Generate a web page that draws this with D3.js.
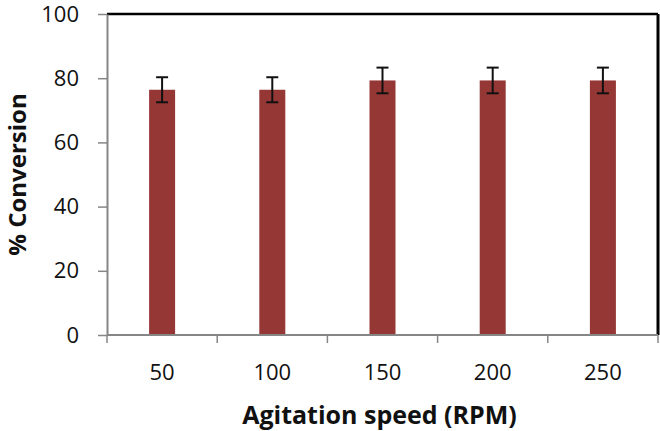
<!DOCTYPE html>
<html>
<head>
<meta charset="utf-8">
<script src="https://cdn.jsdelivr.net/npm/d3@7"></script>
<style>
  body { margin: 0; background: #fff; }
  text { font-family: "Open Sans", sans-serif; fill: #111; }
</style>
</head>
<body>
<div id="chart"></div>
<script>
var svgWidth = 660;
var svgHeight = 431;

var margin = { top: 14, right: 2, bottom: 96, left: 107 };
var width = svgWidth - margin.left - margin.right;
var height = svgHeight - margin.top - margin.bottom;

// data
var speeds = ["50", "100", "150", "200", "250"];
var conversion = [76.4, 76.4, 79.3, 79.3, 79.3];
var errors = [3.9, 3.9, 4.0, 4.0, 4.0];
var yTicks = [0, 20, 40, 60, 80, 100];

var data = speeds.map(function(s, i) {
  return { speed: s, value: conversion[i], err: errors[i] };
});

var svg = d3.select("#chart")
  .append("svg")
  .attr("width", svgWidth)
  .attr("height", svgHeight);

var chartGroup = svg.append("g")
  .attr("transform", `translate(${margin.left}, ${margin.top})`);

var xScale = d3.scaleBand()
  .domain(speeds)
  .range([0, width]);

var yScale = d3.scaleLinear()
  .domain([0, 100])
  .range([height, 0]);

// frame: top and right in black
chartGroup.append("line")
  .attr("x1", 0).attr("x2", width)
  .attr("y1", 0).attr("y2", 0)
  .attr("stroke", "#000").attr("stroke-width", 2.5);
chartGroup.append("line")
  .attr("x1", width).attr("x2", width)
  .attr("y1", 0).attr("y2", height)
  .attr("stroke", "#000").attr("stroke-width", 3);

// bars
var barWidth = 26;
chartGroup.selectAll(".bar")
  .data(data)
  .enter()
  .append("rect")
  .attr("class", "bar")
  .attr("x", d => xScale(d.speed) + xScale.bandwidth() / 2 - barWidth / 2)
  .attr("y", d => yScale(d.value))
  .attr("width", barWidth)
  .attr("height", d => height - yScale(d.value))
  .attr("fill", "#953735");

// error bars
var errGroup = chartGroup.selectAll(".err")
  .data(data)
  .enter()
  .append("g")
  .attr("class", "err")
  .attr("transform", d => `translate(${xScale(d.speed) + xScale.bandwidth() / 2}, 0)`)
  .attr("stroke", "#111")
  .attr("stroke-width", 2);

errGroup.append("line")
  .attr("y1", d => yScale(d.value + d.err))
  .attr("y2", d => yScale(d.value - d.err));
errGroup.append("line")
  .attr("x1", -6).attr("x2", 6)
  .attr("y1", d => yScale(d.value + d.err))
  .attr("y2", d => yScale(d.value + d.err));
errGroup.append("line")
  .attr("x1", -6).attr("x2", 6)
  .attr("y1", d => yScale(d.value - d.err))
  .attr("y2", d => yScale(d.value - d.err));

// axes
var leftAxis = d3.axisLeft(yScale)
  .tickValues(yTicks)
  .tickSizeInner(9)
  .tickSizeOuter(0)
  .tickPadding(19);

var yAxisG = chartGroup.append("g").call(leftAxis);
yAxisG.select(".domain").attr("stroke", "#868686").attr("stroke-width", 2);
yAxisG.selectAll(".tick line").attr("stroke", "#868686").attr("stroke-width", 1.5);
yAxisG.selectAll(".tick text")
  .attr("font-size", "22px")
  .attr("font-family", "Open Sans, sans-serif")
  .attr("fill", "#111");

// category boundary ticks on the x axis
var bottomAxisG = chartGroup.append("g")
  .attr("transform", `translate(0, ${height})`);
bottomAxisG.append("line")
  .attr("x1", 0).attr("x2", width)
  .attr("stroke", "#868686").attr("stroke-width", 2);
bottomAxisG.selectAll(".bound")
  .data(d3.range(speeds.length + 1))
  .enter()
  .append("line")
  .attr("x1", i => i * xScale.step())
  .attr("x2", i => i * xScale.step())
  .attr("y1", 0).attr("y2", 8)
  .attr("stroke", "#868686").attr("stroke-width", 1.5);
bottomAxisG.selectAll(".xlab")
  .data(speeds)
  .enter()
  .append("text")
  .attr("x", d => xScale(d) + xScale.bandwidth() / 2)
  .attr("y", 45)
  .attr("text-anchor", "middle")
  .attr("font-size", "22px")
  .text(d => d);

// axis titles
chartGroup.append("text")
  .attr("transform", `translate(${-margin.left + 26}, ${height / 2}) rotate(-90)`)
  .attr("text-anchor", "middle")
  .attr("font-size", "24px")
  .attr("font-weight", "bold")
  .text("% Conversion");

chartGroup.append("text")
  .attr("x", width / 2 - 3)
  .attr("y", height + 89)
  .attr("text-anchor", "middle")
  .attr("font-size", "25px")
  .attr("font-weight", "bold")
  .text("Agitation speed (RPM)");
</script>
</body>
</html>
